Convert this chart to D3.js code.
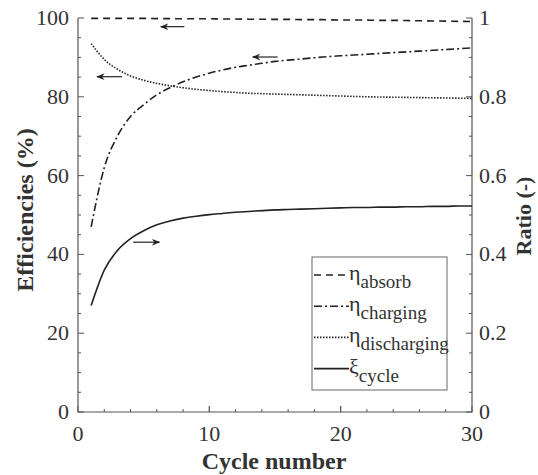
<!DOCTYPE html>
<html>
<head>
<meta charset="utf-8">
<script src="https://cdn.jsdelivr.net/npm/d3@7"></script>
<style>
  body { margin: 0; background: #fff; }
  text { font-family: "Liberation Serif", "Times New Roman", serif; fill: #333; }
</style>
</head>
<body>
<svg id="chart" width="538" height="475"></svg>
<script>
// data
let cycles = d3.range(1, 31);
let etaAbsorb = [99.9, 99.9, 99.9, 99.9, 99.9, 99.85, 99.85, 99.8, 99.8, 99.8,
  99.75, 99.75, 99.7, 99.7, 99.65, 99.65, 99.6, 99.6, 99.55, 99.5,
  99.5, 99.45, 99.4, 99.4, 99.35, 99.3, 99.25, 99.2, 99.15, 99.1];
let etaCharging = [47, 62, 70, 75, 78, 80.5, 82.3, 83.8, 85, 86,
  86.8, 87.5, 88, 88.5, 89, 89.3, 89.6, 89.9, 90.2, 90.4,
  90.6, 90.8, 91, 91.2, 91.4, 91.6, 91.8, 92, 92.2, 92.4];
let etaDischarging = [93.5, 89.5, 87, 85.3, 84.2, 83.4, 82.8, 82.3, 81.9, 81.6,
  81.3, 81.1, 80.9, 80.8, 80.7, 80.6, 80.5, 80.4, 80.3, 80.2,
  80.1, 80, 79.95, 79.9, 79.85, 79.8, 79.75, 79.7, 79.65, 79.6];
let xiCycle = [0.27, 0.36, 0.41, 0.44, 0.46, 0.475, 0.485, 0.492, 0.497, 0.501,
  0.504, 0.507, 0.509, 0.511, 0.513, 0.514, 0.515, 0.516, 0.517, 0.518,
  0.519, 0.519, 0.52, 0.52, 0.521, 0.521, 0.522, 0.522, 0.523, 0.523];
let xTicks = [0, 10, 20, 30];
let yTicks = [0, 20, 40, 60, 80, 100];
let y2Ticks = [0, 0.2, 0.4, 0.6, 0.8, 1];

let margin = {left: 78, right: 66, top: 18, bottom: 63};
let width = 538, height = 475;
let svg = d3.select("#chart");
let ink = "#222";

let x = d3.scaleLinear().domain([0, 30]).range([margin.left, width - margin.right]);
let y = d3.scaleLinear().domain([0, 100]).range([height - margin.bottom, margin.top]);
let y2 = d3.scaleLinear().domain([0, 1]).range([height - margin.bottom, margin.top]);

// frame (left, bottom, right)
let x0 = x(0), x1 = x(30), yb = y(0), yt = y(100);
svg.append("path")
  .attr("d", `M${x0},${yt}V${yb}H${x1}V${yt}`)
  .attr("fill", "none").attr("stroke", "#555").attr("stroke-width", 1.2);

// ticks pointing inward
let g = svg.append("g").attr("stroke", "#555").attr("stroke-width", 1);
d3.range(0, 31, 2).concat([10, 20]).forEach(v => {
  let len = v % 10 == 0 ? 6 : 3;
  g.append("line").attr("x1", x(v)).attr("x2", x(v)).attr("y1", yb).attr("y2", yb - len);
});
d3.range(0, 101, 5).forEach(v => {
  let len = v % 20 == 0 ? 6 : 3;
  g.append("line").attr("x1", x0).attr("x2", x0 + len).attr("y1", y(v)).attr("y2", y(v));
  g.append("line").attr("x1", x1).attr("x2", x1 - len).attr("y1", y(v)).attr("y2", y(v));
});

// tick labels
svg.selectAll(".xlab").data(xTicks).enter().append("text")
  .attr("x", d => x(d)).attr("y", yb + 29)
  .attr("text-anchor", "middle").style("font-size", "22px").text(d => d);
svg.selectAll(".ylab").data(yTicks).enter().append("text")
  .attr("x", x0 - 9).attr("y", d => y(d) + 7)
  .attr("text-anchor", "end").style("font-size", "22px").text(d => d);
svg.selectAll(".y2lab").data(y2Ticks).enter().append("text")
  .attr("x", x1 + 7).attr("y", d => y2(d) + 7)
  .style("font-size", "22px").text(d => d);

// axis titles
svg.append("text").attr("x", 274).attr("y", 469)
  .attr("text-anchor", "middle").style("font-size", "24px").style("font-weight", "bold")
  .text("Cycle number");
svg.append("text").attr("transform", "translate(33,210) rotate(-90)")
  .attr("text-anchor", "middle").style("font-size", "24px").style("font-weight", "bold")
  .text("Efficiencies (%)");
svg.append("text").attr("transform", "translate(531,216) rotate(-90)")
  .attr("text-anchor", "middle").style("font-size", "22px").style("font-weight", "bold")
  .text("Ratio (-)");

// series
let series = [
  {name: "absorb", sym: "η", vals: etaAbsorb, scale: y, dash: "7,5"},
  {name: "charging", sym: "η", vals: etaCharging, scale: y, dash: "8,3,2,3"},
  {name: "discharging", sym: "η", vals: etaDischarging, scale: y, dash: "1.5,1.5"},
  {name: "cycle", sym: "ξ", vals: xiCycle, scale: y2, dash: null}
];
series.forEach(s => {
  let line = d3.line().x((d, i) => x(cycles[i])).y(d => s.scale(d)).curve(d3.curveMonotoneX);
  svg.append("path").datum(s.vals)
    .attr("d", line)
    .attr("fill", "none").attr("stroke", ink).attr("stroke-width", 1.6)
    .attr("stroke-dasharray", s.dash);
});

// arrows showing which axis each curve uses
svg.append("defs").append("marker")
  .attr("id", "head").attr("viewBox", "0 0 10 10")
  .attr("refX", 9).attr("refY", 5).attr("markerWidth", 7).attr("markerHeight", 7)
  .attr("orient", "auto")
  .append("path").attr("d", "M0,1L10,5L0,9L3,5Z").attr("fill", ink);
let arrows = [
  {from: [8.1, 97.8], to: [6.3, 97.8]},
  {from: [15.2, 90.1], to: [13.3, 90.1]},
  {from: [3.35, 85.1], to: [1.45, 85.1]},
  {from: [4.2, 43.1], to: [6.2, 43.1]}
];
arrows.forEach(a => {
  svg.append("line")
    .attr("x1", x(a.from[0])).attr("y1", y(a.from[1]))
    .attr("x2", x(a.to[0])).attr("y2", y(a.to[1]))
    .attr("stroke", ink).attr("stroke-width", 1.2)
    .attr("marker-end", "url(#head)");
});

// legend
let lg = svg.append("g").attr("transform", "translate(312,257)");
lg.append("rect").attr("width", 135).attr("height", 133)
  .attr("fill", "#fff").attr("stroke", "#666").attr("stroke-width", 1);
series.forEach((s, i) => {
  let ly = 18 + i * 31.2;
  lg.append("line").attr("x1", 2).attr("x2", 37).attr("y1", ly).attr("y2", ly)
    .attr("stroke", ink).attr("stroke-width", 1.6).attr("stroke-dasharray", s.dash);
  let t = lg.append("text").attr("x", 37).attr("y", ly + 5).style("font-size", "22px");
  t.append("tspan").text(s.sym);
  t.append("tspan").attr("dy", 8).style("font-size", "19px").text(s.name);
});
</script>
</body>
</html>
